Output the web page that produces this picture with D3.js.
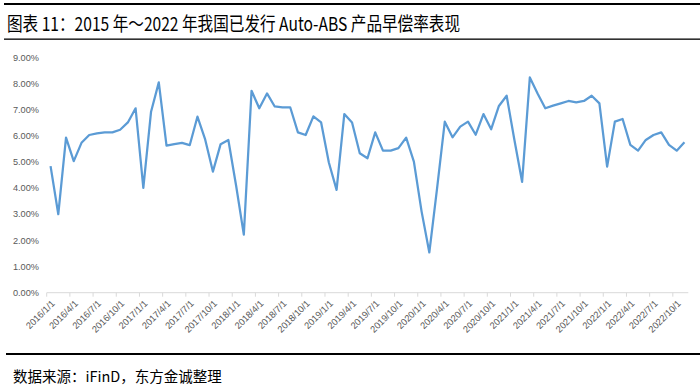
<!DOCTYPE html>
<html>
<head>
<meta charset="utf-8">
<script src="https://cdn.jsdelivr.net/npm/d3@7"></script>
<style>
  body { margin: 0; background: #fff; }
  svg { display: block; }
</style>
</head>
<body>
<svg id="chart" width="700" height="389"></svg>
<script>
// monthly early-repayment rate, %, 2016/1 .. 2022/11
var months = d3.timeMonth.range(new Date(2016, 0, 1), new Date(2022, 11, 1));
var fmt = d3.timeFormat("%Y/%-m/%-d");
var categories = months.map(function(d){ return fmt(d); });

var rates = [
  4.84, 3.0, 5.93, 5.03, 5.73, 6.03, 6.09, 6.13, 6.13, 6.23, 6.51, 7.05,
  4.01, 6.92, 8.04, 5.62, 5.68, 5.73, 5.64, 6.73, 5.86, 4.63, 5.68, 5.84,
  4.1, 2.22, 7.72, 7.05, 7.62, 7.12, 7.09, 7.09, 6.13, 6.03, 6.74, 6.51,
  4.98, 3.93, 6.83, 6.51, 5.33, 5.14, 6.13, 5.43, 5.43, 5.53, 5.93, 5.01,
  3.1, 1.54, 3.99, 6.54, 5.94, 6.35, 6.54, 6.04, 6.83, 6.25, 7.14, 7.53,
  5.85, 4.24, 8.23, 7.62, 7.05, 7.15, 7.24, 7.33, 7.28, 7.33, 7.53, 7.24,
  4.82, 6.54, 6.64, 5.65, 5.43, 5.84, 6.03, 6.13, 5.65, 5.43, 5.75
];

var yTicks = [0, 1, 2, 3, 4, 5, 6, 7, 8, 9];

var title = "图表 11：2015 年～2022 年我国已发行 Auto-ABS 产品早偿率表现";
var source = "数据来源：iFinD，东方金诚整理";

var svg = d3.select("#chart");

// header rules
svg.append("rect").attr("x", 4).attr("y", 3).attr("width", 696).attr("height", 2).attr("fill", "#000");
svg.append("rect").attr("x", 4).attr("y", 38.5).attr("width", 696).attr("height", 1.3).attr("fill", "#000");

svg.append("text")
    .attr("x", 7)
    .attr("y", 31)
    .attr("font-family", "'Noto Sans CJK SC', sans-serif")
    .attr("font-size", "19px")
    .attr("textLength", 453)
    .attr("lengthAdjust", "spacingAndGlyphs")
    .attr("fill", "#000")
    .text(title);

var x = d3.scaleBand()
    .domain(d3.range(categories.length))
    .range([46.7, 688.3])
    .paddingInner(0)
    .paddingOuter(0);

var y = d3.scaleLinear()
    .domain([0, 9])
    .range([292.7, 57.3]);

// y tick labels
svg.selectAll(".ylab")
    .data(yTicks)
    .enter().append("text")
    .attr("class", "ylab")
    .attr("x", 39)
    .attr("y", function(d){ return y(d); })
    .attr("dy", "0.35em")
    .attr("text-anchor", "end")
    .attr("font-family", "'Liberation Sans', sans-serif")
    .attr("font-size", "9.2px")
    .attr("fill", "#595959")
    .text(function(d){ return d.toFixed(2) + "%"; });

// x axis line + ticks
svg.append("line")
    .attr("x1", x.range()[0]).attr("x2", x.range()[1])
    .attr("y1", y(0)).attr("y2", y(0))
    .attr("stroke", "#d9d9d9").attr("stroke-width", 1);

var tickIdx = d3.range(0, categories.length, 3);

svg.selectAll(".xtick")
    .data(tickIdx)
    .enter().append("line")
    .attr("class", "xtick")
    .attr("x1", function(d){ return x(d); })
    .attr("x2", function(d){ return x(d); })
    .attr("y1", y(0))
    .attr("y2", y(0) + 4)
    .attr("stroke", "#d9d9d9").attr("stroke-width", 1);

svg.selectAll(".xlab")
    .data(tickIdx)
    .enter().append("text")
    .attr("class", "xlab")
    .attr("transform", function(d){
        return "translate(" + (x(d) + x.bandwidth() / 2 + 2.5) + "," + (y(0) + 9) + ") rotate(-45)";
    })
    .attr("dy", "0.35em")
    .attr("text-anchor", "end")
    .attr("font-family", "'Liberation Sans', sans-serif")
    .attr("font-size", "9.3px")
    .attr("fill", "#595959")
    .text(function(d){ return categories[d]; });

// rate line
var line = d3.line()
    .x(function(d, i){ return x(i) + x.bandwidth() / 2; })
    .y(function(d){ return y(d); });

svg.append("path")
    .datum(rates)
    .attr("d", line)
    .attr("fill", "none")
    .attr("stroke", "#5b9bd5")
    .attr("stroke-width", 2.25)
    .attr("stroke-linejoin", "round");

// footer
svg.append("rect").attr("x", 6).attr("y", 353).attr("width", 694).attr("height", 2).attr("fill", "#000");

svg.append("text")
    .attr("x", 13)
    .attr("y", 382)
    .attr("font-family", "'Noto Sans CJK SC', sans-serif")
    .attr("font-size", "14.5px")
    .attr("fill", "#000")
    .text(source);
</script>
</body>
</html>
